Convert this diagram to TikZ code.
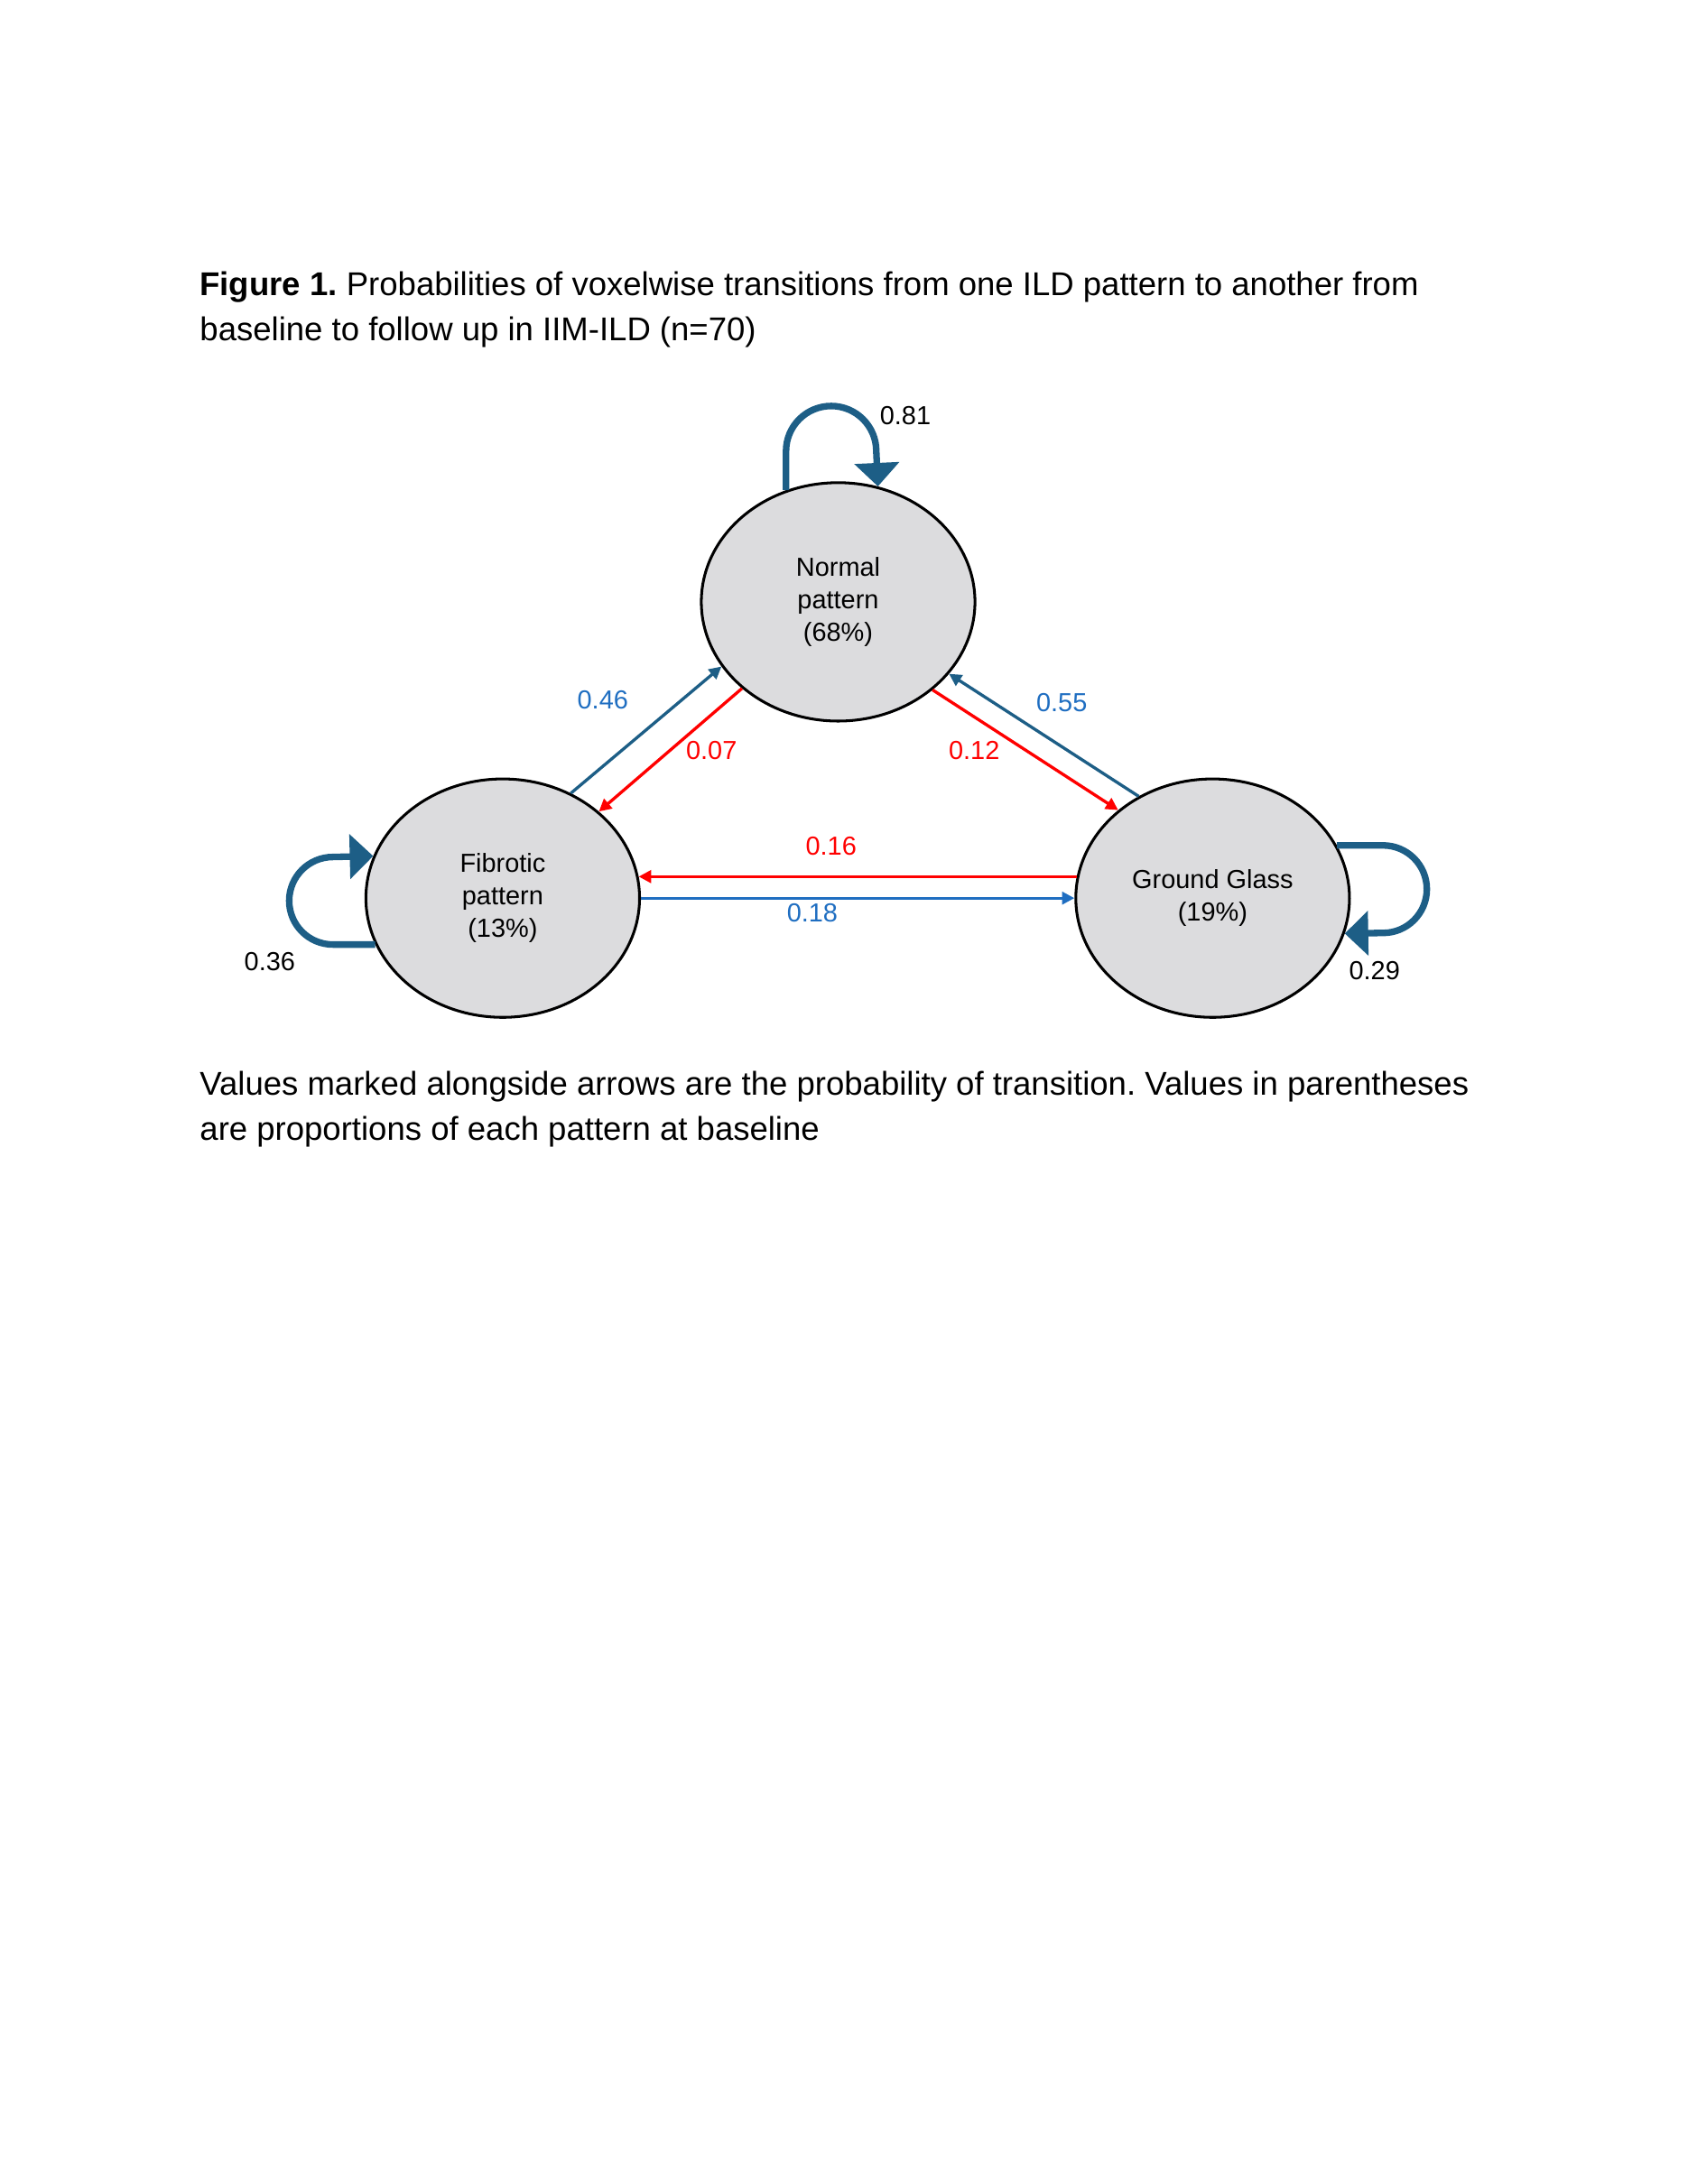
\documentclass[tikz,border=0pt]{standalone}
\usepackage{fontspec}
\setmainfont{Liberation Sans}
\frenchspacing
\usetikzlibrary{arrows.meta,shapes.geometric}
\definecolor{LoopBlue}{HTML}{1D5E86}
\definecolor{EdgeBlue}{HTML}{1F6EC1}
\definecolor{EdgeRed}{HTML}{FF0000}
\definecolor{StateGray}{HTML}{DCDCDE}

\begin{document}
\begin{tikzpicture}[
    state/.style={ellipse,draw=black,line width=1pt,fill=StateGray,
      minimum width=3.50cm,minimum height=3.05cm,inner sep=0pt,
      align=center,font=\fontsize{9.5}{11.9}\selectfont},
    selfloop/.style={LoopBlue,line width=2.4pt,
      -{Triangle[width=0.56cm,length=0.30cm]}},
    trans/.style={line width=1.1pt,-{Triangle[width=4.5pt,length=4.5pt]}},
    prob/.style={font=\fontsize{9.5}{11}\selectfont,inner sep=0pt},
    caption/.style={anchor=base west,align=left,inner sep=0pt,
      font=\fontsize{12}{16.5}\selectfont}]
  \useasboundingbox (0,0) rectangle (21.59,27.94);
  % caption above (base = last line)
  \node[caption] (title) at (2.55,23.58)
    {\textbf{Figure 1.} Probabilities of voxelwise transitions from one ILD pattern to another from\\
     baseline to follow up in IIM-ILD (n=70)};
  % states
  \node[state] (norm) at (10.72,20.24) {Normal\\pattern\\(68\%)};
  \node[state] (fib) at (6.43,16.45) {Fibrotic\\pattern\\(13\%)};
  \node[state] (gg) at (15.51,16.45) {Ground Glass\\(19\%)};
  % self loops
  \draw[selfloop] (norm.115) -- ++(0,0.50)
    arc[start angle=180,end angle=0,radius=0.577] -- (norm.71);
  \draw[selfloop] (fib.200) -- ++(-0.54,0)
    arc[start angle=270,end angle=90,radius=0.56] -- (fib.162);
  \draw[selfloop] (gg.23) -- ++(0.59,0)
    arc[start angle=90,end angle=-90,radius=0.56] -- (gg.345);
  % transitions
  \draw[trans,LoopBlue] (fib.57) -- (norm.209);
  \draw[trans,EdgeRed] (norm.222) -- (fib.42);
  \draw[trans,EdgeRed] (norm.317) -- (gg.137);
  \draw[trans,LoopBlue] (gg.126) -- (norm.327);
  \draw[trans,EdgeRed] (gg.171) -- (fib.9);
  \draw[trans,EdgeBlue] (fib.east) -- (gg.west);
  % probabilities
  \node[prob] (p81) at (11.58,22.62) {0.81};
  \node[prob] (p36) at (3.45,15.64) {0.36};
  \node[prob] (p29) at (17.58,15.52) {0.29};
  \node[prob,text=EdgeBlue] (p46) at (7.71,18.99) {0.46};
  \node[prob,text=EdgeRed] (p07) at (9.10,18.34) {0.07};
  \node[prob,text=EdgeRed] (p12) at (12.46,18.34) {0.12};
  \node[prob,text=EdgeBlue] (p55) at (13.58,18.95) {0.55};
  \node[prob,text=EdgeRed] (p16) at (10.63,17.11) {0.16};
  \node[prob,text=EdgeBlue] (p18) at (10.39,16.26) {0.18};
  % note below (base = last line)
  \node[caption] (note) at (2.55,13.35)
    {Values marked alongside arrows are the probability of transition. Values in parentheses\\
     are proportions of each pattern at baseline};
\end{tikzpicture}
\end{document}
